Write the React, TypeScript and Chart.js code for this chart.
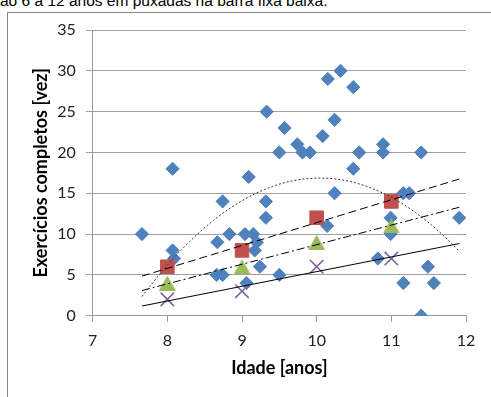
import React, { useEffect, useRef } from "react";
import { Chart, registerables } from "chart.js";
Chart.register(...registerables);

// Individual results (blue diamonds)
const blueX = [7.66, 8.07, 8.07, 8.09, 8.67, 8.74, 8.83, 8.66, 8.74, 9.04, 9.09, 9.06, 9.15, 9.2, 9.17, 9.24,
  9.32, 9.32, 9.33, 9.5, 9.5, 9.57, 9.74, 9.81, 9.91, 10.08, 10.15, 10.24, 10.24, 10.14, 10.32, 10.49, 10.49,
  10.57, 10.82, 10.89, 10.89, 10.99, 10.99, 11.16, 11.24, 11.16, 11.4, 11.4, 11.49, 11.57, 11.91];
const blueY = [10, 18, 8, 7, 9, 14, 10, 5, 5, 10, 17, 4, 10, 9, 8, 6,
  14, 12, 25, 5, 20, 23, 21, 20, 20, 22, 29, 24, 15, 11, 30, 28, 18,
  20, 7, 21, 20, 12, 10, 15, 15, 4, 20, 0, 6, 4, 12];

// Group values per age
const groupX = [8, 9, 10, 11];
const redY = [6, 8, 12, 14];
const greenY = [4, 6, 9, 11];
const purpleY = [2, 3, 6, 7];

const xMin = 7, xMax = 12, xStep = 1;
const yMin = 0, yMax = 35, yStep = 5;

const title = "ão 6 a 12 anos em puxadas na barra fixa baixa.";
const xTitle = "Idade [anos]";
const yTitle = "Exercícios completos [vez]";

function linFit(xs: number[], ys: number[]) {
  const n = xs.length;
  const mx = xs.reduce((a, b) => a + b, 0) / n;
  const my = ys.reduce((a, b) => a + b, 0) / n;
  let sxy = 0, sxx = 0;
  for (let i = 0; i < n; i++) { sxy += (xs[i] - mx) * (ys[i] - my); sxx += (xs[i] - mx) ** 2; }
  const b = sxy / sxx;
  return (x: number) => my + b * (x - mx);
}

function quadFit(xs: number[], ys: number[]) {
  const S = [0, 0, 0, 0, 0];
  const T = [0, 0, 0];
  for (let i = 0; i < xs.length; i++) {
    for (let k = 0; k < 5; k++) S[k] += xs[i] ** k;
    for (let k = 0; k < 3; k++) T[k] += ys[i] * xs[i] ** k;
  }
  const M = [
    [S[0], S[1], S[2], T[0]],
    [S[1], S[2], S[3], T[1]],
    [S[2], S[3], S[4], T[2]],
  ];
  for (let c = 0; c < 3; c++) {
    for (let r = c + 1; r < 3; r++) {
      const f = M[r][c] / M[c][c];
      for (let k = c; k < 4; k++) M[r][k] -= f * M[c][k];
    }
  }
  const co = [0, 0, 0];
  for (let r = 2; r >= 0; r--) {
    let s = M[r][3];
    for (let k = r + 1; k < 3; k++) s -= M[r][k] * co[k];
    co[r] = s / M[r][r];
  }
  return (x: number) => co[0] + co[1] * x + co[2] * x * x;
}

function triangleImage(color: string, w: number, h: number) {
  const c = document.createElement("canvas");
  c.width = w; c.height = h;
  const g = c.getContext("2d")!;
  g.fillStyle = color;
  g.beginPath();
  g.moveTo(w / 2, 0);
  g.lineTo(w, h);
  g.lineTo(0, h);
  g.closePath();
  g.fill();
  return c;
}

export default function App() {
  const ref = useRef<HTMLCanvasElement>(null);
  useEffect(() => {
    const t0 = Math.min(...blueX), t1 = Math.max(...blueX);
    const pts = (xs: number[], ys: number[]) => xs.map((x, i) => ({ x, y: ys[i] }));
    const linePts = (f: (x: number) => number) => [{ x: t0, y: f(t0) }, { x: t1, y: f(t1) }];
    const q = quadFit(blueX, blueY);
    const curve: { x: number; y: number }[] = [];
    const N = 80;
    for (let i = 0; i <= N; i++) { const x = t0 + (t1 - t0) * i / N; curve.push({ x, y: q(x) }); }
    const trend = (data: any, dash: number[], color = "#000") => ({
      data, showLine: true, borderColor: color, borderWidth: 1, borderDash: dash,
      pointRadius: 0, fill: false, order: 1,
    });
    const chart = new Chart(ref.current!, {
      type: "scatter",
      data: {
        datasets: [
          trend(curve, [2, 2], "#333"),
          trend(linePts(linFit(groupX, redY)), [8, 4]),
          trend(linePts(linFit(groupX, greenY)), [8, 3, 2, 3]),
          trend(linePts(linFit(groupX, purpleY)), []),
          { data: pts(groupX, purpleY), pointStyle: "crossRot", pointRadius: 9.5, borderColor: "#8064A2", borderWidth: 1.6, backgroundColor: "#8064A2", order: 2 },
          { data: pts(groupX, greenY), pointStyle: triangleImage("#9BBB59", 17, 15) as any, pointRadius: 9, order: 3 },
          { data: pts(groupX, redY), pointStyle: "rect", pointRadius: 9.6, backgroundColor: "#C0504D", borderColor: "#C0504D", borderWidth: 1, order: 4 },
          { data: pts(blueX, blueY), pointStyle: "rectRot", pointRadius: 6.6, backgroundColor: "#4F81BD", borderColor: "#4F81BD", borderWidth: 1, order: 5 },
        ] as any,
      },
      options: {
        animation: false,
        responsive: false,
        devicePixelRatio: 1,
        layout: { padding: { top: 30, right: 25, left: 0, bottom: 0 } },
        plugins: { legend: { display: false }, tooltip: { enabled: false } },
        scales: {
          x: {
            type: "linear", min: xMin, max: xMax,
            ticks: { stepSize: xStep, color: "#222", padding: 10, font: { family: "Lato", size: 16 } },
            grid: { drawOnChartArea: false, drawTicks: true, tickLength: 6, color: "#999" },
            border: { display: true, color: "#999" },
            title: { display: true, text: xTitle, color: "#000", font: { family: "Lato", size: 18, weight: "bold" }, padding: { top: 0, bottom: 18 } },
            afterFit: (s: any) => { s.height = 81.3; },
          },
          y: {
            type: "linear", min: yMin, max: yMax,
            ticks: { stepSize: yStep, color: "#222", padding: 10, font: { family: "Lato", size: 16 } },
            grid: { color: "#a0a0a0", tickLength: 7 },
            border: { display: true, color: "#999" },
            title: { display: true, text: yTitle, color: "#000", font: { family: "Lato", size: 18, weight: "bold" }, padding: { top: 30, bottom: 0 } },
            afterFit: (s: any) => { s.width = 92.7; },
          },
        },
      } as any,
    });
    return () => chart.destroy();
  }, []);

  return (
    <div style={{ position: "fixed", left: 0, top: 0, width: 491, height: 397, overflow: "hidden", background: "#fff" }}>
      <div style={{ position: "absolute", left: 0, top: -7, whiteSpace: "nowrap", fontFamily: "'Liberation Sans', Arial, sans-serif", fontSize: 15.5, lineHeight: "16px", color: "#000" }}>
        {title}
      </div>
      <div style={{ position: "absolute", left: 7, top: 12, width: 600, height: 600, border: "1px solid #868686", boxSizing: "border-box" }} />
      <canvas ref={ref} width={491} height={397} style={{ position: "absolute", left: 0, top: 0, width: 491, height: 397 }} />
    </div>
  );
}
